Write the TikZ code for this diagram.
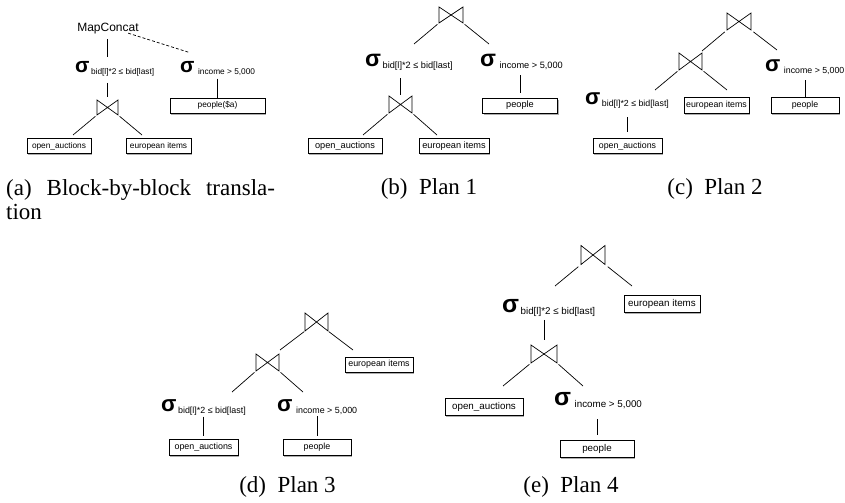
\documentclass[tikz,border=0pt]{standalone}
\usepackage{fontspec}
\setmainfont{Liberation Serif}
\setsansfont{Liberation Sans}
\usetikzlibrary{shadows,calc}
\newcommand\sg[2][1.5]{{\fontsize{\gs bp}{\gs bp}\selectfont\bfseries σ}\hspace{#1bp}\raisebox{-2bp}{#2}}
\newcommand\jdraw[1]{\draw[ln,line join=miter] (#1.north west) -- (#1.south west) -- (#1.north east) -- (#1.south east) -- cycle;}
\tikzset{
  x=1bp, y=-1bp,
  ln/.style={line width=0.7bp, black},
  tbox/.style 2 args={draw, line width=0.7bp, fill=white, inner sep=0pt,
    minimum width=#1bp, minimum height=#2bp,
    font=\sffamily\fontsize{\fs bp}{\fs bp}\selectfont,
    drop shadow={shadow xshift=1.4bp, shadow yshift=-2bp, opacity=0.4, fill=black!80}},
  sel/.style={inner sep=0pt, anchor=base west, font=\sffamily\fontsize{\fs bp}{\fs bp}\selectfont},
  jn/.style 2 args={minimum width=#1bp, minimum height=#2bp, inner sep=0pt, outer sep=0pt},
  captxt/.style={inner sep=0pt, font=\fontsize{23bp}{23.5bp}\selectfont},
}
\begin{document}
\begin{tikzpicture}
\useasboundingbox[fill=white] (0,0) rectangle (845,503);

% ---------- (a) ----------
\begin{scope}
\def\fs{8.3}\def\gs{21}
\node[font=\sffamily\fontsize{12bp}{12bp}\selectfont, inner sep=0pt, anchor=base] (mc) at (108,32) {MapConcat};
\node[sel] (s1a) at (75,73) {\sg{bid[l]*2 ≤ bid[last]}};
\node[sel] (s2a) at (180,73) {\sg[3.5]{income > 5,000}};
\node[jn={21}{15}] (j1a) at (107.5,107.5) {};
\node[tbox={64}{15}] (b1a) at (59,146) {open\_auctions};
\node[tbox={65}{15}] (b2a) at (158.5,146) {european items};
\node[tbox={95}{15}] (b3a) at (217.5,105.5) {people(\$a)};
\jdraw{j1a}
\coordinate (e1a) at (73,135);
\coordinate (e2a) at (142,135);
\draw[ln, shorten <=4.5bp, shorten >=5bp] (mc.south -| j1a) -- (s1a.north -| j1a);
\draw[ln, dash pattern=on 3bp off 2bp] ($(mc.south east)+(-10.7,-1.5)$) -- ($(s2a.north west)+(10,-9)$);
\draw[ln, shorten <=6bp, shorten >=3bp] (s1a.south -| j1a) -- (j1a.north);
\draw[ln, shorten <=2bp] (j1a.south west) -- (e1a);
\draw[ln, shorten <=2bp] (j1a.south east) -- (e2a);
\draw[ln, shorten <=2.3bp] (s2a.south -| b3a) -- (b3a.north);
\end{scope}

% ---------- (b) ----------
\begin{scope}
\def\fs{9.2}\def\gs{23.3}
\node[jn={24}{16}] (j1b) at (451,15) {};
\node[sel] (s1b) at (365,67) {\sg{bid[l]*2 ≤ bid[last]}};
\node[sel] (s2b) at (480,67) {\sg[3.5]{income > 5,000}};
\node[jn={23}{17}] (j2b) at (400.5,104.5) {};
\node[tbox={74}{15}] (b1b) at (345,146) {open\_auctions};
\node[tbox={70}{15}] (b2b) at (454,146) {european items};
\node[tbox={75}{15}] (b3b) at (520,105.5) {people};
\jdraw{j1b}\jdraw{j2b}
\coordinate (e1b) at (414,44);
\coordinate (e2b) at (489,44);
\coordinate (e3b) at (363,135);
\coordinate (e4b) at (437,135);
\draw[ln, shorten <=2bp] (j1b.south west) -- (e1b);
\draw[ln, shorten <=2bp] (j1b.south east) -- (e2b);
\draw[ln, shorten <=7bp, shorten >=1bp] (s1b.south -| j2b) -- (j2b.north);
\draw[ln, shorten <=2bp] (j2b.south west) -- (e3b);
\draw[ln, shorten <=2bp] (j2b.south east) -- (e4b);
\draw[ln, shorten <=5bp, shorten >=5bp] (s2b.south -| b3b) -- (b3b.north);
\end{scope}

% ---------- (c) ----------
\begin{scope}
\def\fs{8.8}\def\gs{22.3}
\node[jn={24}{17}] (j1c) at (739,21.5) {};
\node[jn={23}{17}] (j2c) at (690.5,61.5) {};
\node[sel] (s1c) at (585,105) {\sg{bid[l]*2 ≤ bid[last]}};
\node[sel] (s2c) at (765,72) {\sg[3.5]{income > 5,000}};
\node[tbox={69}{15}] (b1c) at (627.5,146) {open\_auctions};
\node[tbox={65}{16}] (b2c) at (716.5,105) {european items};
\node[tbox={68}{16}] (b3c) at (805,105) {people};
\jdraw{j1c}\jdraw{j2c}
\coordinate (e1c) at (702,51);
\coordinate (e2c) at (777,50);
\coordinate (e3c) at (655,90);
\coordinate (e4c) at (727,90);
\draw[ln, shorten <=3bp] (j1c.south west) -- (e1c);
\draw[ln, shorten <=3bp] (j1c.south east) -- (e2c);
\draw[ln, shorten <=2bp] (j2c.south west) -- (e3c);
\draw[ln, shorten <=2bp] (j2c.south east) -- (e4c);
\draw[ln, shorten <=8bp, shorten >=6bp] (s1c.south -| b1c) -- (b1c.north);
\draw[ln, shorten <=5bp] (s2c.south -| b3c) -- (b3c.north);
\end{scope}

% ---------- (d) ----------
\begin{scope}
\def\fs{8.9}\def\gs{22.5}
\node[jn={23}{18}] (j1d) at (316.5,322) {};
\node[tbox={68}{15}] (b1d) at (379,364.5) {european items};
\node[jn={23}{17}] (j2d) at (267.5,362.5) {};
\node[sel] (s1d) at (161,411) {\sg{bid[l]*2 ≤ bid[last]}};
\node[sel] (s2d) at (277,411) {\sg[3.5]{income > 5,000}};
\node[tbox={69}{16}] (b2d) at (203.5,447) {open\_auctions};
\node[tbox={68}{16}] (b3d) at (317,447) {people};
\jdraw{j1d}\jdraw{j2d}
\coordinate (e1d) at (280,350);
\coordinate (e2d) at (353,350);
\coordinate (e3d) at (232,392);
\coordinate (e4d) at (303,392);
\draw[ln, shorten <=1bp] (j1d.south west) -- (e1d);
\draw[ln, shorten <=1bp] (j1d.south east) -- (e2d);
\draw[ln, shorten <=2bp] (j2d.south west) -- (e3d);
\draw[ln, shorten <=2bp] (j2d.south east) -- (e4d);
\draw[ln, shorten <=1.5bp, shorten >=3bp] (s1d.south -| b2d) -- (b2d.north);
\draw[ln, shorten <=1.5bp, shorten >=3bp] (s2d.south -| b3d) -- (b3d.north);
\end{scope}

% ---------- (e) ----------
\begin{scope}
\def\fs{9.8}\def\gs{24.8}
\node[jn={24}{19}] (j1e) at (593,255) {};
\node[tbox={76}{17}] (b1e) at (662,303.5) {european items};
\node[sel] (s1e) at (502,313) {\sg{bid[l]*2 ≤ bid[last]}};
\node[jn={26}{18}] (j2e) at (544,354) {};
\node[tbox={78}{17}] (b2e) at (484,406.5) {open\_auctions};
\node[sel] (s2e) at (554,405) {\sg[3.5]{income > 5,000}};
\node[tbox={74}{17}] (b3e) at (597,448.5) {people};
\jdraw{j1e}\jdraw{j2e}
\coordinate (e1e) at (555,286);
\coordinate (e2e) at (632,286);
\coordinate (e3e) at (503,386);
\coordinate (e4e) at (583,386);
\draw[ln, shorten <=3.5bp] (j1e.south west) -- (e1e);
\draw[ln, shorten <=3.5bp] (j1e.south east) -- (e2e);
\draw[ln, shorten <=2.6bp, shorten >=5bp] (s1e.south -| j2e) -- (j2e.north);
\draw[ln, shorten <=2bp] (j2e.south west) -- (e3e);
\draw[ln, shorten <=2bp] (j2e.south east) -- (e4e);
\draw[ln, shorten <=10.6bp, shorten >=5bp] (s2e.south -| b3e) -- (b3e.north);
\end{scope}

% ---------- captions ----------
\node[captxt, anchor=north west, align=left] (ca) at (6,179.5) {(a)\hspace{15bp}Block-by-block\hspace{15bp}transla-\\tion};
\node[captxt, anchor=base] (cb) at (429,195) {(b)\enspace Plan 1};
\node[captxt, anchor=base] (cc) at (715,195) {(c)\enspace Plan 2};
\node[captxt, anchor=base] (cd) at (287.5,492) {(d)\enspace Plan 3};
\node[captxt, anchor=base] (ce) at (571,492) {(e)\enspace Plan 4};
\end{tikzpicture}
\end{document}
